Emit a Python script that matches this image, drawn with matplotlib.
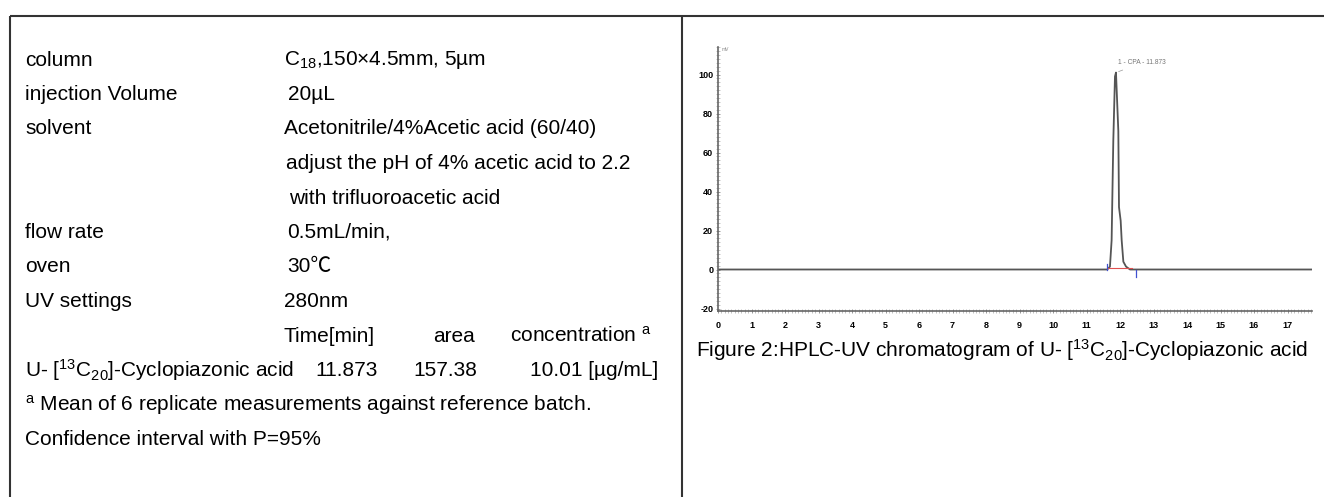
import matplotlib
matplotlib.use('Agg')
import matplotlib.pyplot as plt
from matplotlib.ticker import MultipleLocator

W, H = 1324, 497

plt.rcParams['font.family'] = ['Liberation Sans', 'Noto Sans CJK SC', 'DejaVu Sans']
plt.rcParams['mathtext.default'] = 'regular'

# ---- table data ----
param_labels = ['column', 'injection Volume', 'solvent', '', '', 'flow rate', 'oven', 'UV settings']
param_values = [r'C$_{18}$,150×4.5mm, 5µm', '20µL', 'Acetonitrile/4%Acetic acid (60/40)',
                'adjust the pH of 4% acetic acid to 2.2', 'with trifluoroacetic acid',
                '0.5mL/min,', '30℃', '280nm']
result_headers = ['Time[min]', 'area', r'concentration $^{a}$']
compound = r'U- [$^{13}$C$_{20}$]-Cyclopiazonic acid'
result_values = ['11.873', '157.38', '10.01 [µg/mL]']
footnotes = [r'$^{a}$ Mean of 6 replicate measurements against reference batch.',
             'Confidence interval with P=95%']

# ---- chromatogram data (time in min, signal in mV) ----
time_min = [0.0, 11.62, 11.70, 11.75, 11.80, 11.85, 11.88, 11.95, 11.97, 12.02, 12.05, 12.10, 12.18, 12.30, 17.73]
signal_mv = [0.0, 0.0, 1.5, 15, 66, 99, 101, 71, 32, 25, 15, 4, 1.5, 0.0, 0.0]
peak_start, peak_end = 11.64, 12.36
marker_times = [11.61, 12.48]
marker_heights = [3, -4]
peak_label = '1 - CPA - 11.873'
x_ticks = list(range(18))
y_ticks = [-20, 0, 20, 40, 60, 80, 100]
caption = r'Figure 2:HPLC-UV chromatogram of U- [$^{13}$C$_{20}$]-Cyclopiazonic acid'

fig = plt.figure(figsize=(W / 100, H / 100), dpi=100)
fig.patch.set_facecolor('white')

# background axes in pixel coordinates for table frame and text
bg = fig.add_axes([0, 0, 1, 1])
bg.set_xlim(0, W)
bg.set_ylim(H, 0)
bg.axis('off')

line_kw = dict(color='#333333', lw=1.5, solid_capstyle='butt')
bg.plot([10, W], [16, 16], **line_kw)
bg.plot([10, 10], [16, H], **line_kw)
bg.plot([682, 682], [16, H], **line_kw)

fs = 15
row_y = [60 + 34.5 * i for i in range(12)]
value_x = [284, 288, 284, 286, 289, 287, 287, 284]
for i, (lab, val) in enumerate(zip(param_labels, param_values)):
    if lab:
        bg.text(25, row_y[i], lab, fontsize=fs, va='center', ha='left')
    bg.text(value_x[i], row_y[i], val, fontsize=fs, va='center', ha='left')

for x, txt in zip([284, 433, 510], result_headers):
    bg.text(x, row_y[8], txt, fontsize=fs, va='center', ha='left')
bg.text(25, row_y[9], compound, fontsize=fs, va='center', ha='left')
for x, txt in zip([315, 413, 530], result_values):
    bg.text(x, row_y[9], txt, fontsize=fs, va='center', ha='left')
for i, txt in enumerate(footnotes):
    bg.text(25, row_y[10 + i], txt, fontsize=fs, va='center', ha='left')

bg.text(696, 350, caption, fontsize=fs, va='center', ha='left')

# ---- chromatogram axes ----
x_left, x_right, y_top, y_bot = 718, 1312, 47, 311
ax = fig.add_axes([x_left / W, (H - y_bot) / H, (x_right - x_left) / W, (y_bot - y_top) / H])
ax.patch.set_alpha(0)
px_per_min = 33.5
px_per_mv = 1.95
ax.set_xlim(0, (x_right - x_left) / px_per_min)
ax.set_ylim(-(y_bot - 269.5) / px_per_mv, (269.5 - y_top) / px_per_mv)

ax.plot(time_min, signal_mv, color='#555555', lw=1.3)
ax.plot([peak_start, peak_end], [0.6, 0.6], color='#e05050', lw=0.8)
for t, h in zip(marker_times, marker_heights):
    ax.plot([t, t], [0, h], color='#4050d0', lw=0.9)
ax.annotate(peak_label, xy=(11.88, 101), xytext=(11.95, 106), fontsize=4.8, color='#777777',
            va='center', ha='left', arrowprops=dict(arrowstyle='-', color='#999999', lw=0.5))
ax.text(0.1, 113, 'mV', fontsize=3.5, color='#888888', va='center')

for side in ['top', 'right']:
    ax.spines[side].set_visible(False)
for side in ['left', 'bottom']:
    ax.spines[side].set_color('#666666')
    ax.spines[side].set_linewidth(1.2)

ax.set_xticks(x_ticks, [str(v) for v in x_ticks], fontsize=6.5, fontweight='bold')
ax.set_yticks(y_ticks, [str(v) for v in y_ticks], fontsize=6.5, fontweight='bold')
ax.xaxis.set_minor_locator(MultipleLocator(0.1))
ax.yaxis.set_minor_locator(MultipleLocator(2))
ax.tick_params(axis='x', which='major', length=3, width=0.6, color='#888888', direction='inout', pad=6)
ax.tick_params(axis='y', which='major', length=3, width=0.6, color='#888888', direction='inout', pad=2)
ax.tick_params(which='minor', length=2.5, width=0.5, color='#aaaaaa', direction='inout')

fig.savefig('out.png', dpi=100, facecolor='white')
